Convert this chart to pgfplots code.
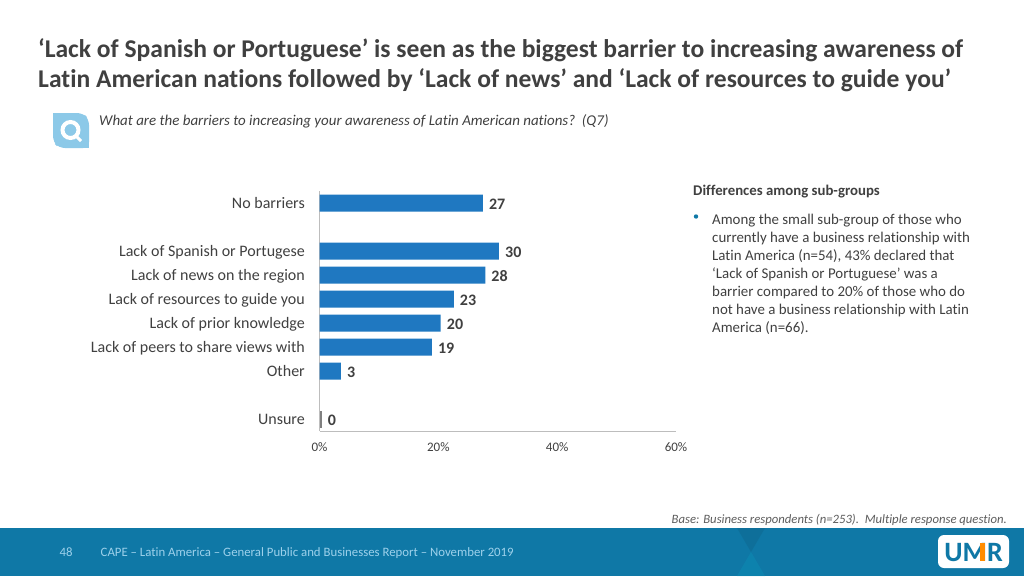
\documentclass[border=0pt]{standalone}
\usepackage{fontspec}
\setmainfont{Carlito}[Ligatures={NoCommon}]
\usepackage{pgfplots}
\usepackage{pgfplotstable}
\pgfplotsset{compat=1.18}
\definecolor{barblue}{HTML}{1F78C1}
\definecolor{txt}{HTML}{404040}
\definecolor{axisgrey}{HTML}{BDBDBD}
\definecolor{band}{HTML}{0F78A6}
\definecolor{iconblue}{HTML}{8CC9E8}
\pgfplotstableread{
pos val lab
0 27.5 27
2 30.2 30
3 27.9 28
4 22.6 23
5 20.4 20
6 18.9 19
7 3.6 3
}\mainbars
\pgfplotstableread{
pos val lab
9 0.35 0
}\unsurebar
\begin{document}
\begin{tikzpicture}[x=1pt,y=-1pt,font=\color{txt}]
\fill[white] (0,0) rectangle (1024,576);
% footer band
\fill[band] (0,528) rectangle (1024,576);
\fill[band!85!black,opacity=.45] (737,528) -- (765,528) -- (751,552) -- cycle;
\fill[band!80!cyan,opacity=.4] (751,552) -- (765,576) -- (737,576) -- cycle;
% title
\node[anchor=base west,inner sep=0pt,font=\fontsize{25.57}{25.57}\selectfont\bfseries\color{txt}] at (38,57) {‘Lack of Spanish or Portuguese’ is seen as the biggest barrier to increasing awareness of};
\node[anchor=base west,inner sep=0pt,font=\fontsize{25.57}{25.57}\selectfont\bfseries\color{txt}] at (38,87) {Latin American nations followed by ‘Lack of news’ and ‘Lack of resources to guide you’};
% question icon
\fill[iconblue,rounded corners=6pt] (53,113) -- (83,113) -- (89,119) -- (89,148) -- (59,148) -- (53,142) -- cycle;
\fill[iconblue] (53,113) rectangle (60,120);
\fill[iconblue] (82,141) rectangle (89,148);
\draw[white,line width=4pt] (70.5,130) circle (8pt);
\draw[white,line width=3pt] (76,136) -- (81,141);
\node[anchor=base west,inner sep=0pt,font=\fontsize{14.95}{14.95}\selectfont\itshape\color{txt}] at (99,125) {What are the barriers to increasing your awareness of Latin American nations?~~(Q7)};
% side text
\node[anchor=base west,inner sep=0pt,font=\fontsize{14.8}{14.8}\selectfont\bfseries\color{txt}] at (693,195) {Differences among sub-groups};
\fill[band] (696,216.5) circle (2.2pt);
\node[anchor=north west,inner sep=0pt,align=left,font=\fontsize{14.9}{18}\selectfont\color{txt}] at (712,214) {Among the small sub-group of those who\\currently have a business relationship with\\Latin America (n=54), 43\% declared that\\‘Lack of Spanish or Portuguese’ was a\\barrier compared to 20\% of those who do\\not have a business relationship with Latin\\America (n=66).};
\node[anchor=base east,inner sep=0pt,font=\fontsize{12.7}{12.7}\selectfont\itshape\color{txt!85}] at (1007,523) {Base: Business respondents (n=253).~~Multiple response question.};
% footer text
\node[anchor=base west,inner sep=0pt,font=\fontsize{12.8}{12.8}\selectfont\color{iconblue!85!white}] at (59.5,556) {48};
\node[anchor=base west,inner sep=0pt,font=\fontsize{12.8}{12.8}\selectfont\color{iconblue!85!white}] at (100.5,556) {CAPE – Latin America – General Public and Businesses Report – November 2019};
% logo
\fill[white,rounded corners=6pt] (938,535) rectangle (1009,568);
\node[anchor=base,inner sep=0pt,font=\fontsize{28}{28}\selectfont\bfseries\color{band}] at (973.5,561) {UMR};
\fill[orange!90!yellow] (980,543) -- (985,543) -- (985,561) -- (980,561) -- cycle;
\begin{axis}[
  at={(319.5pt,-431pt)}, anchor=south west,
  width=356.5pt, height=240pt, scale only axis,
  xmin=0, xmax=60, ymin=-0.5, ymax=9.5,
  y dir=reverse,
  axis x line*=bottom, axis y line*=left,
  axis line style={axisgrey,-},
  major tick length=0pt,
  xtick={0,20,40,60},
  xticklabel={\pgfmathprintnumber{\tick}\%},
  /pgf/number format/assume math mode=true,
  ytick={0,2,3,4,5,6,7,9},
  yticklabels={No barriers,Lack of Spanish or Portugese,Lack of news on the region,Lack of resources to guide you,Lack of prior knowledge,Lack of peers to share views with,Other,Unsure},
  y tick label style={font=\fontsize{16}{16}\selectfont\color{txt},inner xsep=0pt,xshift=-14.5pt,yshift=-1pt,text height=11pt,text depth=3pt},
  x tick label style={font=\fontsize{13}{13}\selectfont\color{txt},yshift=-8pt},
  xbar, bar shift=0pt, bar width=17pt,
  point meta=explicit symbolic,
  nodes near coords,
  every node near coord/.append style={font=\fontsize{16}{16}\selectfont\bfseries\color{txt},inner xsep=0pt,xshift=6pt,anchor=west,yshift=-1pt},
  clip=false,
]
\addplot[fill=barblue,draw=none] table[x=val,y=pos,meta=lab] {\mainbars};
\addplot[fill=gray,draw=none] table[x=val,y=pos,meta=lab] {\unsurebar};
\end{axis}
\end{tikzpicture}
\end{document}
